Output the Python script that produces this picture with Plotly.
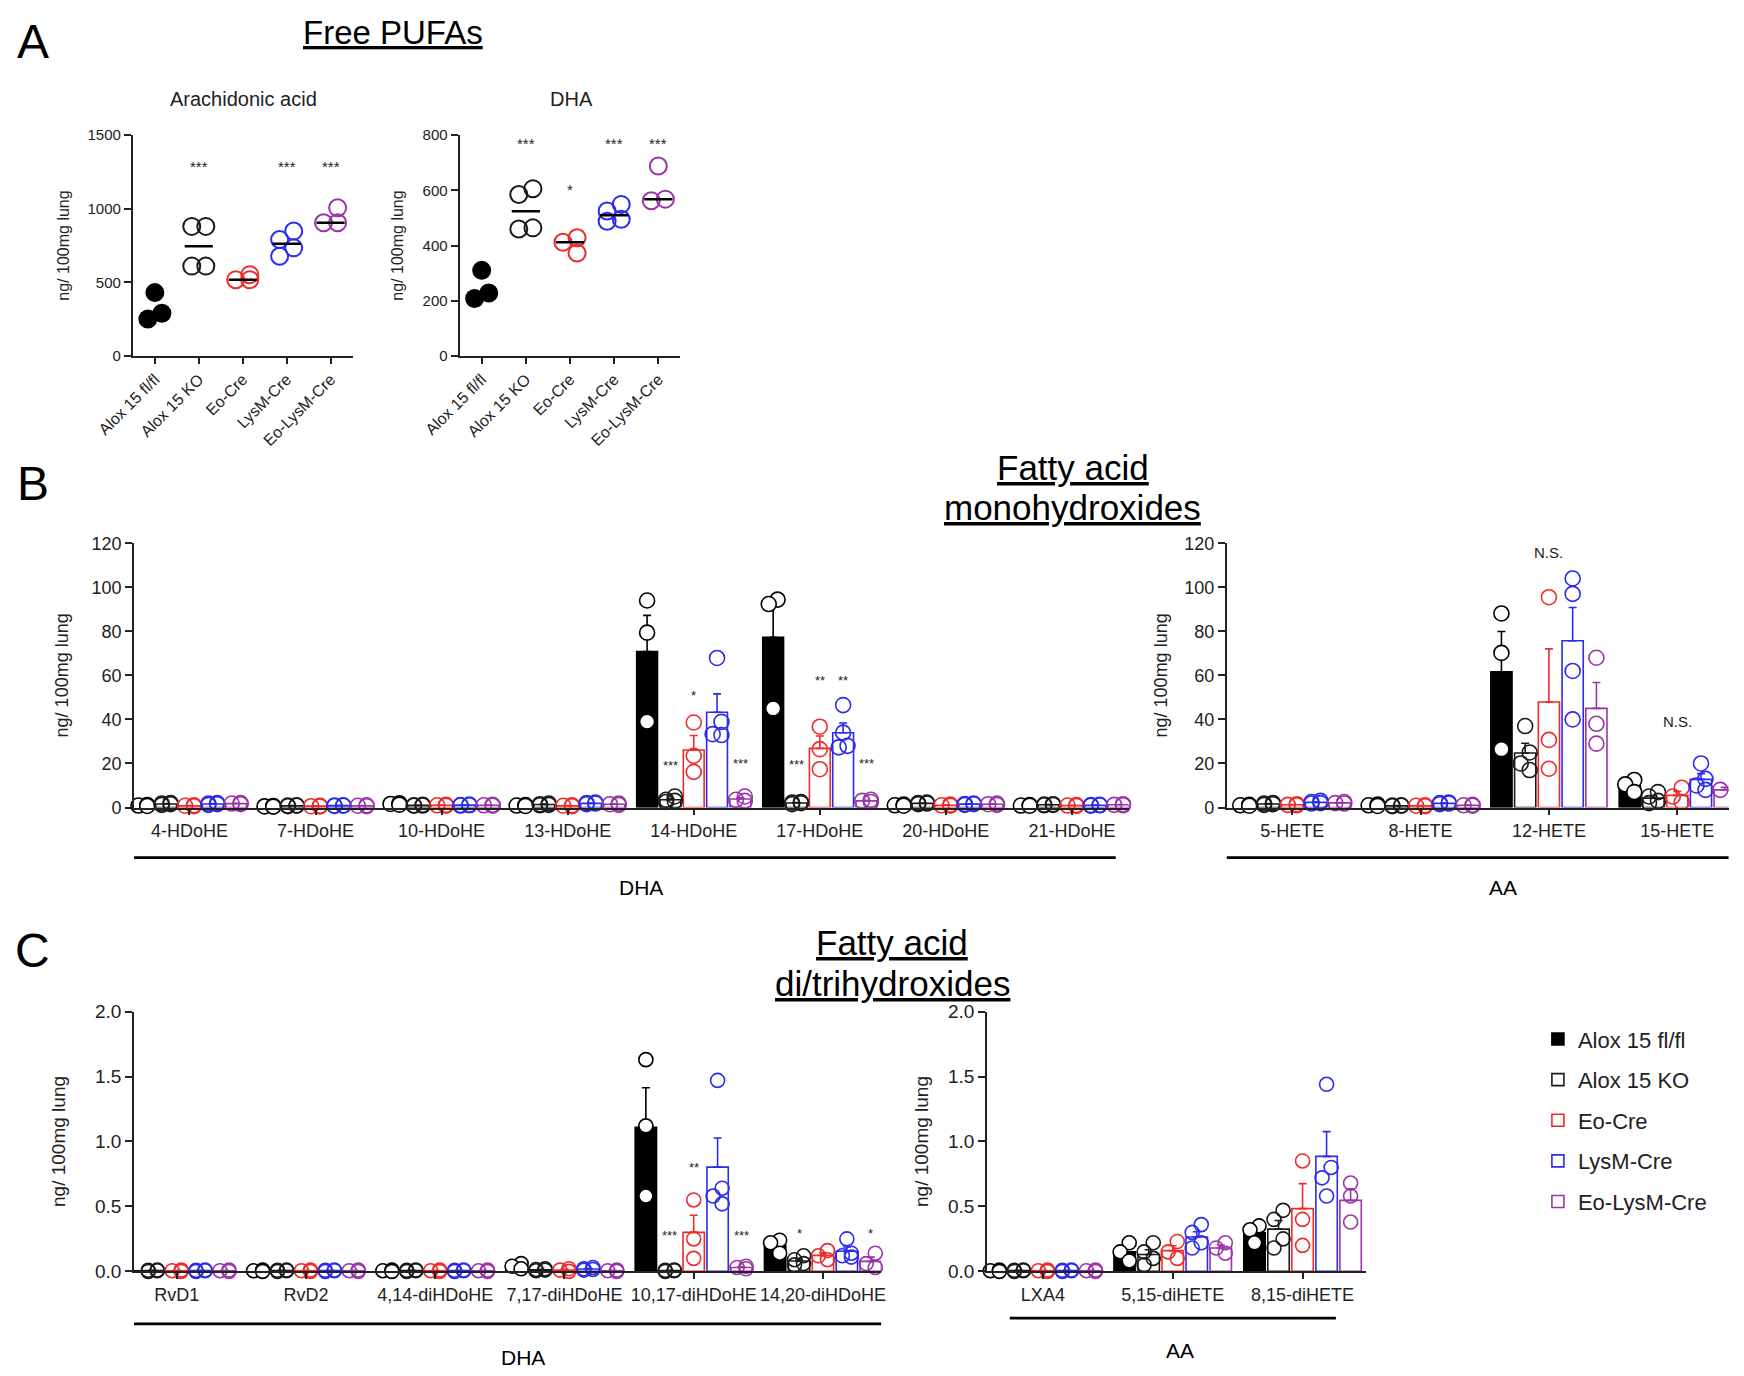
import plotly.graph_objects as go
import numpy as np

# ---- groups ----
GROUPS = ["Alox 15 fl/fl", "Alox 15 KO", "Eo-Cre", "LysM-Cre", "Eo-LysM-Cre"]
COLORS = ["#000000", "#1a1a1a", "#ee2b2b", "#2b2bee", "#9a35a8"]

# ---- panel A: free PUFAs (ng/100mg lung) ----
A_AA_VALUES = [
    [430, 290, 250],
    [880, 880, 610, 610],
    [552, 518, 518],
    [848, 791, 734, 677],
    [1007, 905, 905],
]
A_AA_STARS = ["", "***", "", "***", "***"]
A_AA_STAR_Y = [0, 1290, 0, 1290, 1290]

A_DHA_VALUES = [
    [310, 208, 228],
    [606, 585, 464, 460],
    [428, 412, 373],
    [549, 525, 495, 488],
    [688, 568, 562],
]
A_DHA_STARS = ["", "***", "*", "***", "***"]
A_DHA_STAR_Y = [0, 768, 604, 768, 768]

# ---- panel B: monohydroxides ----
B_DHA_LABELS = ["4-HDoHE", "7-HDoHE", "10-HDoHE", "13-HDoHE",
                "14-HDoHE", "17-HDoHE", "20-HDoHE", "21-HDoHE"]
B_DHA_FLFL = [[0.9, 1.1, 0.7], [0.5, 0.7, 0.4], [1.6, 1.9, 1.3], [0.9, 1.1, 0.7],
              [94.0, 79.4, 39.0], [94.4, 92.4, 45.0], [1.0, 1.3, 0.8], [0.9, 1.1, 0.8]]
B_DHA_KO = [[1.5, 1.8, 1.2, 2.0], [0.8, 1.0, 0.6, 0.9], [1.0, 1.2, 0.9, 0.8], [1.5, 1.2, 1.8, 1.0],
            [5.0, 3.0, 3.5, 2.5], [2.5, 2.0, 1.5, 2.2], [1.8, 2.0, 1.5, 2.2], [1.2, 1.5, 1.0, 1.3]]
B_DHA_EO = [[0.8, 1.0, 0.6], [0.6, 0.8, 0.5], [1.0, 1.2, 0.8], [0.8, 1.0, 0.6],
            [38.6, 23.5, 16.2], [36.7, 26.5, 17.4], [1.0, 1.3, 0.8], [0.9, 1.1, 0.7]]
B_DHA_LYS = [[1.5, 2.0, 1.2, 1.8], [0.8, 1.0, 0.7, 0.9], [1.0, 1.3, 0.9, 1.1], [1.8, 2.2, 1.5, 2.0],
             [67.9, 38.9, 33.3, 32.9], [46.5, 34.0, 28.0, 27.3], [1.5, 1.8, 1.2, 1.6], [1.0, 1.2, 0.8, 1.1]]
B_DHA_EOLYS = [[1.8, 2.0, 1.5], [0.8, 1.0, 0.6], [1.0, 1.2, 0.8], [1.5, 1.8, 1.2],
               [5.0, 3.5, 3.0], [3.5, 2.5, 3.0], [1.5, 1.8, 1.2], [1.2, 1.5, 1.0]]
B_DHA_STARS = [(4, 1, "***"), (4, 2, "*"), (4, 4, "***"),
               (5, 1, "***"), (5, 2, "**"), (5, 3, "**"), (5, 4, "***")]
B_DHA_STAR_Y = [19, 51, 20, 19.7, 57.6, 57.6, 20]

B_AA_LABELS = ["5-HETE", "8-HETE", "12-HETE", "15-HETE"]
B_AA_FLFL = [[1.0, 1.2, 0.8], [1.0, 1.3, 0.7], [88.1, 70.2, 26.5], [12.5, 10.5, 7.0]]
B_AA_KO = [[1.5, 2.0, 1.2, 1.8], [0.8, 1.0, 0.6, 0.9], [37.0, 25.0, 20.0, 17.0], [7.0, 5.0, 3.0, 2.0]]
B_AA_EO = [[1.5, 1.0, 1.2], [0.8, 1.0, 0.6], [95.5, 30.7, 17.6], [9.0, 5.0, 2.5]]
B_AA_LYS = [[2.5, 2.0, 3.0, 1.8], [1.8, 2.0, 1.5, 2.2], [104, 97, 62, 40], [20.0, 13.0, 10.0, 8.0]]
B_AA_EOLYS = [[2.0, 2.5, 1.8], [1.0, 1.2, 0.8], [68, 38, 29], [10.0, 8.0, 6.0]]
B_AA_NS = [(2, "N.S."), (3, "N.S.")]
B_AA_NS_Y = [116, 39]

# ---- panel C: di/trihydroxides ----
C_DHA_LABELS = ["RvD1", "RvD2", "4,14-diHDoHE", "7,17-diHDoHE", "10,17-diHDoHE", "14,20-diHDoHE"]
C_DHA_FLFL = [[0.005, 0.01, 0.0], [0.005, 0.01, 0.0], [0.005, 0.01, 0.0], [0.06, 0.04, 0.02],
              [1.63, 1.12, 0.58], [0.24, 0.22, 0.14]]
C_DHA_KO = [[0.005, 0.01, 0.0, 0.008], [0.005, 0.01, 0.0, 0.008], [0.005, 0.01, 0.0, 0.008],
            [0.02, 0.01, 0.015, 0.005], [0.01, 0.005, 0.0, 0.008], [0.12, 0.09, 0.06, 0.05]]
C_DHA_EO = [[0.005, 0.01, 0.0], [0.005, 0.01, 0.0], [0.005, 0.01, 0.0], [0.02, 0.01, 0.0],
            [0.55, 0.25, 0.1], [0.16, 0.12, 0.09]]
C_DHA_LYS = [[0.005, 0.01, 0.0, 0.008], [0.005, 0.01, 0.0, 0.008], [0.005, 0.01, 0.0, 0.008],
             [0.03, 0.02, 0.01, 0.015], [1.47, 0.64, 0.58, 0.52], [0.25, 0.14, 0.12, 0.11]]
C_DHA_EOLYS = [[0.005, 0.01, 0.0], [0.005, 0.01, 0.0], [0.005, 0.01, 0.0], [0.01, 0.005, 0.0],
               [0.04, 0.03, 0.02], [0.14, 0.06, 0.03]]
C_DHA_STARS = [(4, 1, "***"), (4, 2, "**"), (4, 4, "***"), (5, 1, "*"), (5, 4, "*")]
C_DHA_STAR_Y = [0.28, 0.80, 0.28, 0.29, 0.29]

C_AA_LABELS = ["LXA4", "5,15-diHETE", "8,15-diHETE"]
C_AA_FLFL = [[0.005, 0.01, 0.0], [0.22, 0.15, 0.08], [0.35, 0.32, 0.22]]
C_AA_KO = [[0.005, 0.01, 0.0, 0.008], [0.22, 0.15, 0.10, 0.05], [0.47, 0.40, 0.25, 0.18]]
C_AA_EO = [[0.005, 0.01, 0.0], [0.23, 0.15, 0.10], [0.85, 0.40, 0.20]]
C_AA_LYS = [[0.005, 0.01, 0.0, 0.008], [0.36, 0.30, 0.22, 0.18], [1.44, 0.80, 0.72, 0.58]]
C_AA_EOLYS = [[0.005, 0.01, 0.0], [0.22, 0.18, 0.14], [0.68, 0.58, 0.38]]

# ---- geometry helpers (reference measured at 1564x1234, page body adds a small offset) ----
FONT = "Liberation Sans, Arial, sans-serif"
TXT = "#222222"
PW, PH = 1564.0, 1234.0
OX, OY = 7.0, 8.0
SLOT = 0.185
BARW = 0.165


def px(x):
    return (x - OX) / PW


def py(y):
    return 1 - (y - OY) / PH


def dx(x0, x1):
    return [px(x0), px(x1)]


def dy(ytop, ybot):
    return [py(ybot), py(ytop)]


def zigzag(vals, thr, half):
    # spread overlapping points left/right, GraphPad style
    order = sorted(range(len(vals)), key=lambda i: -vals[i])
    offs = [0.0] * len(vals)
    clusters, cur = [], []
    for i in order:
        if cur and vals[cur[-1]] - vals[i] >= thr:
            clusters.append(cur)
            cur = []
        cur.append(i)
    clusters.append(cur)
    for cl in clusters:
        if len(cl) > 1:
            for k, idx in enumerate(cl):
                offs[idx] = half if k % 2 == 0 else -half
    return offs


fig = go.Figure()


def dot_panel(n, values, thr):
    xa, ya = ("x", "y") if n == 1 else (f"x{n}", f"y{n}")
    for g, vals in enumerate(values):
        offs = zigzag(vals, thr, 0.16)
        fig.add_trace(go.Scatter(
            x=[g + o for o in offs], y=vals, xaxis=xa, yaxis=ya, mode="markers",
            marker=dict(symbol="circle" if g == 0 else "circle-open", size=17,
                        color=COLORS[g], line=dict(width=2, color=COLORS[g])),
            showlegend=False, cliponaxis=False, hoverinfo="skip"))
        med = float(np.median(vals))
        fig.add_trace(go.Scatter(
            x=[g - 0.32, g + 0.32], y=[med, med], xaxis=xa, yaxis=ya, mode="lines",
            line=dict(color="black", width=2.5), showlegend=False, hoverinfo="skip"))


def bar_panel(n, labels, data, thr, msize, legend):
    xa, ya = f"x{n}", f"y{n}"
    ncat = len(labels)
    for g in range(5):
        pts = data[g]
        means = [float(np.mean(p)) for p in pts]
        sems = [float(np.std(p, ddof=1) / np.sqrt(len(p))) for p in pts]
        fig.add_trace(go.Bar(
            x=[c + (g - 2) * SLOT for c in range(ncat)], y=means, width=BARW,
            xaxis=xa, yaxis=ya, name=GROUPS[g], legendgroup=GROUPS[g], showlegend=legend,
            marker=dict(color=COLORS[g] if g == 0 else "rgba(255,255,255,0)",
                        line=dict(color=COLORS[g], width=1.6)),
            error_y=dict(type="data", symmetric=False, array=sems, arrayminus=[0] * ncat,
                         color=COLORS[g], thickness=1.6, width=4),
            hoverinfo="skip"))
    for g in range(5):
        xs, ys = [], []
        for c in range(ncat):
            offs = zigzag(data[g][c], thr, 0.035)
            for v, o in zip(data[g][c], offs):
                xs.append(c + (g - 2) * SLOT + o)
                ys.append(v)
        if g == 0:
            mk = dict(symbol="circle", size=msize, color="white", line=dict(width=1.6, color="black"))
        else:
            mk = dict(symbol="circle-open", size=msize, color=COLORS[g], line=dict(width=1.6))
        fig.add_trace(go.Scatter(x=xs, y=ys, xaxis=xa, yaxis=ya, mode="markers", marker=mk,
                                 showlegend=False, cliponaxis=False, hoverinfo="skip"))


dot_panel(1, A_AA_VALUES, 120)
dot_panel(2, A_DHA_VALUES, 65)
bar_panel(3, B_DHA_LABELS, [B_DHA_FLFL, B_DHA_KO, B_DHA_EO, B_DHA_LYS, B_DHA_EOLYS], 6, 15, False)
bar_panel(4, B_AA_LABELS, [B_AA_FLFL, B_AA_KO, B_AA_EO, B_AA_LYS, B_AA_EOLYS], 6, 15, False)
bar_panel(5, C_DHA_LABELS, [C_DHA_FLFL, C_DHA_KO, C_DHA_EO, C_DHA_LYS, C_DHA_EOLYS], 0.09, 14, True)
bar_panel(6, C_AA_LABELS, [C_AA_FLFL, C_AA_KO, C_AA_EO, C_AA_LYS, C_AA_EOLYS], 0.09, 14, False)


def y_axis(dom, rng, dtick, anchor, tsize, ttl, standoff, fmt="", lw=2):
    return dict(domain=dom, range=rng, dtick=dtick, tick0=0, tickformat=fmt, anchor=anchor,
                showline=True, linecolor=TXT, linewidth=lw, ticks="outside", ticklen=7,
                tickwidth=lw, tickcolor=TXT, showgrid=False, zeroline=False, automargin=False,
                tickfont=dict(size=tsize, color=TXT),
                title=dict(text="ng/ 100mg lung", font=dict(size=ttl, color=TXT), standoff=standoff))


def x_axis(dom, rng, labels, anchor, tsize, angle=0, lw=2):
    return dict(domain=dom, range=rng, anchor=anchor, tickmode="array",
                tickvals=list(range(len(labels))), ticktext=labels, tickangle=angle,
                showline=True, linecolor=TXT, linewidth=lw, ticks="outside", ticklen=6,
                tickwidth=lw, tickcolor=TXT, showgrid=False, zeroline=False, automargin=False,
                tickfont=dict(size=tsize, color=TXT))


yA, yB, yC = dy(122, 320), dy(488, 725), dy(908, 1141)

fig.update_layout(
    width=1744, height=1376, margin=dict(l=0, r=0, t=0, b=0, autoexpand=False),
    paper_bgcolor="white", plot_bgcolor="white", barmode="overlay",
    font=dict(family=FONT, color=TXT),
    xaxis=x_axis(dx(119, 316), [-0.5, 4.5], GROUPS, "y", 16, -45),
    yaxis=y_axis(yA, [0, 1500], 500, "x", 15, 16, 14),
    xaxis2=x_axis(dx(412, 610), [-0.5, 4.5], GROUPS, "y2", 16, -45),
    yaxis2=y_axis(yA, [0, 800], 200, "x2", 15, 16, 15),
    xaxis3=x_axis(dx(120, 1012), [-0.44, 7.45], B_DHA_LABELS, "y3", 18, 0, 1.8),
    yaxis3=y_axis(yB, [0, 120], 20, "x3", 18, 18, 18, "", 1.8),
    xaxis4=x_axis(dx(1100, 1550), [-0.51, 3.40], B_AA_LABELS, "y4", 18, 0, 1.8),
    yaxis4=y_axis(yB, [0, 120], 20, "x4", 18, 18, 12, "", 1.8),
    xaxis5=x_axis(dx(120, 790), [-0.33, 5.45], C_DHA_LABELS, "y5", 18, 0, 1.8),
    yaxis5=y_axis(yC, [0, 2], 0.5, "x5", 19, 19, 24, ".1f", 1.8),
    xaxis6=x_axis(dx(885, 1225), [-0.43, 2.49], C_AA_LABELS, "y6", 18, 0, 1.8),
    yaxis6=y_axis(yC, [0, 2], 0.5, "x6", 19, 19, 14, ".1f", 1.8),
    legend=dict(x=px(1379), y=py(914), xanchor="left", yanchor="top",
                font=dict(size=22, color=TXT), tracegroupgap=9, bgcolor="rgba(0,0,0,0)"),
)

ann = []


def text(x, y, s, size, xref="paper", yref="paper", color=TXT):
    ann.append(dict(x=x, y=y, xref=xref, yref=yref, text=s, showarrow=False,
                    xanchor="center", yanchor="middle",
                    font=dict(size=size, color=color, family=FONT)))


# panel letters and titles
text(px(29), py(38), "A", 48, color="black")
text(px(29), py(434), "B", 48, color="black")
text(px(29), py(853), "C", 48, color="black")
text(px(352), py(30), "<u>Free PUFAs</u>", 33, color="black")
text(px(962), py(420), "<u>Fatty acid</u>", 35, color="black")
text(px(962), py(456), "<u>monohydroxides</u>", 35, color="black")
text(px(800), py(846), "<u>Fatty acid</u>", 35, color="black")
text(px(800), py(883), "<u>di/trihydroxides</u>", 35, color="black")
text(px(218), py(90), "Arachidonic acid", 20)
text(px(512), py(90), "DHA", 20)

# significance marks
for g, s in enumerate(A_AA_STARS):
    if s:
        text(g, A_AA_STAR_Y[g], s, 15, "x", "y")
for g, s in enumerate(A_DHA_STARS):
    if s:
        text(g, A_DHA_STAR_Y[g], s, 15, "x2", "y2")
for (c, g, s), yv in zip(B_DHA_STARS, B_DHA_STAR_Y):
    text(c + (g - 2) * SLOT, yv, s, 13, "x3", "y3")
for (c, s), yv in zip(B_AA_NS, B_AA_NS_Y):
    text(c, yv, s, 15, "x4", "y4")
for (c, g, s), yv in zip(C_DHA_STARS, C_DHA_STAR_Y):
    text(c + (g - 2) * SLOT, yv, s, 13, "x5", "y5")

# precursor brackets
brackets = [("x3", 0.0, 0.987, 770, "DHA", 0.51, 797),
            ("x4", 0.0, 1.0, 770, "AA", 0.55, 797),
            ("x5", 0.0, 1.0, 1188, "DHA", 0.52, 1218),
            ("x6", 0.06, 0.92, 1183, "AA", 0.51, 1212)]
shapes = []
for xr, a, b, yl, lab, lx, ly in brackets:
    shapes.append(dict(type="line", xref=f"{xr} domain", yref="paper", x0=a, x1=b,
                       y0=py(yl), y1=py(yl), line=dict(color="black", width=2.8)))
    text(lx, py(ly), lab, 21, f"{xr} domain", "paper", color="black")

fig.update_layout(annotations=ann, shapes=shapes)

fig.write_html("out.html")
